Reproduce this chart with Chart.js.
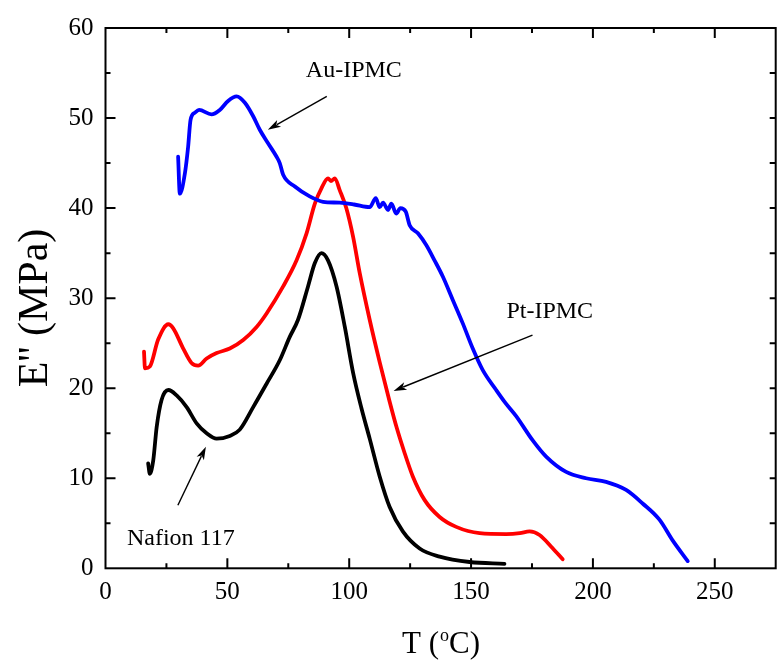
<!DOCTYPE html>
<html>
<head>
<meta charset="utf-8">
<script src="https://cdn.jsdelivr.net/npm/chart.js@4.4.0/dist/chart.umd.min.js"></script>
<style>
  body { margin: 0; background: #fff; }
  canvas { display: block; }
</style>
</head>
<body>
<canvas id="render" width="777" height="660"></canvas>
<script>
// E'' vs temperature
const auT = [29.8, 30.5, 32.6, 33.9, 34.9, 36.7, 38.4, 43.5, 46.9, 50.3, 53.8, 57.2, 60.6, 63.3, 66.7, 70.2, 71.5, 72.9, 77.7, 83.8, 89.3, 96.1, 102, 108.4, 110.9, 112.5, 113.9, 115.9, 117.3, 119.3, 121, 123.2, 124.8, 128.2, 131.6, 135.0, 138.4, 142.5, 146.6, 150.7, 154.8, 160.3, 164, 168.5, 175.3, 180.8, 189.0, 197.2, 205.4, 213.6, 220.4, 227.3, 232.7, 238.9];
const auE = [45.7, 41.6, 43.9, 46.8, 49.8, 50.6, 50.9, 50.4, 50.9, 51.9, 52.4, 51.7, 50.2, 48.7, 47.2, 45.7, 45.0, 43.7, 42.4, 41.3, 40.7, 40.6, 40.4, 40.1, 41.1, 40.1, 40.6, 39.8, 40.5, 39.4, 40.0, 39.6, 38.1, 37.2, 35.9, 34.2, 32.4, 29.8, 27.2, 24.4, 22.0, 19.8, 18.4, 16.9, 14.2, 12.4, 10.7, 10.0, 9.6, 8.7, 7.2, 5.4, 3.1, 0.8];

const ptT = [15.8, 16.2, 18.2, 21.6, 25.8, 27.8, 31.9, 35.3, 38.0, 41.5, 45.6, 51.0, 56.5, 62.0, 66.1, 72.9, 78.4, 82.5, 85.9, 88.6, 91.3, 92.5, 94.1, 96.1, 98.8, 101.6, 104.3, 108.4, 112.5, 116.6, 119.5, 122.5, 126.1, 130.9, 137.1, 143.9, 153.5, 164.4, 170.0, 174.0, 178.1, 182.9, 187.6];
const ptE = [24.05, 22.2, 22.4, 25.4, 27.1, 26.65, 24.4, 22.8, 22.5, 23.3, 23.9, 24.4, 25.35, 26.8, 28.3, 31.3, 34.2, 37.2, 40.5, 42.2, 43.3, 43.0, 43.3, 42.0, 40.0, 36.8, 32.8, 27.6, 22.9, 18.5, 15.6, 13.0, 10.2, 7.6, 5.7, 4.6, 3.9, 3.8, 3.9, 4.1, 3.7, 2.4, 1.0];

const nafT = [17.5, 18.2, 19.6, 21.0, 23.0, 25.8, 29.2, 33.3, 37.4, 41.5, 45.6, 51.0, 55.1, 60.6, 66.1, 71.5, 75.6, 79.0, 83.1, 85.9, 88.6, 91.3, 94.8, 98.2, 101.6, 105.0, 108.4, 112.5, 116.6, 122.0, 128.9, 137.1, 149.4, 163.7];
const nafE = [11.65, 10.5, 12.0, 15.7, 18.7, 19.8, 19.2, 17.9, 16.1, 15.0, 14.4, 14.7, 15.4, 17.9, 20.5, 23.1, 25.7, 27.6, 31.3, 33.9, 35.0, 34.2, 31.3, 26.8, 21.7, 17.8, 14.4, 10.2, 6.8, 4.1, 2.2, 1.3, 0.7, 0.5];

const xTicks = [0, 50, 100, 150, 200, 250];
const yTicks = [0, 10, 20, 30, 40, 50, 60];

// label text, anchor (T, E), arrow tail and tip in data units
const notes = [
  { text: 'Au-IPMC', at: [82.2, 54.6], from: [90.8, 52.4], to: [66.6, 48.7] },
  { text: 'Pt-IPMC', at: [164.5, 27.8], from: [175.2, 25.9], to: [118.2, 19.7] },
  { text: 'Nafion 117', at: [8.8, 2.6], from: [29.7, 7.0], to: [41.2, 13.5] }
];

const serif = '"Liberation Serif", "Times New Roman", serif';

function pts(xs, ys) {
  return xs.map((x, i) => ({ x: x, y: ys[i] }));
}

function line(label, xs, ys, color) {
  return {
    label: label,
    data: pts(xs, ys),
    showLine: true,
    borderColor: color,
    borderWidth: 3.8,
    pointRadius: 0,
    fill: false,
    cubicInterpolationMode: 'monotone',
    borderCapStyle: 'round',
    borderJoinStyle: 'round'
  };
}

const frame = {
  id: 'frame',
  afterDraw: chart => {
    const ctx = chart.ctx;
    const a = chart.chartArea;
    const xs = chart.scales.x, ys = chart.scales.y;
    ctx.save();
    ctx.strokeStyle = '#000';
    ctx.lineWidth = 2;
    ctx.strokeRect(a.left, a.top, a.right - a.left, a.bottom - a.top);

    ctx.beginPath();
    for (let v = 25; v < 275; v += 25) {
      const px = xs.getPixelForValue(v);
      const len = v % 50 === 0 ? 10 : 5;
      ctx.moveTo(px, a.bottom); ctx.lineTo(px, a.bottom - len);
      ctx.moveTo(px, a.top); ctx.lineTo(px, a.top + len);
    }
    for (let v = 5; v < 60; v += 5) {
      const py = ys.getPixelForValue(v);
      const len = v % 10 === 0 ? 10 : 5;
      ctx.moveTo(a.left, py); ctx.lineTo(a.left + len, py);
      ctx.moveTo(a.right, py); ctx.lineTo(a.right - 6, py);
    }
    ctx.stroke();

    // annotations
    ctx.fillStyle = '#000';
    ctx.font = '24px ' + serif;
    ctx.textBaseline = 'alphabetic';
    ctx.textAlign = 'left';
    notes.forEach(n => {
      ctx.fillText(n.text, xs.getPixelForValue(n.at[0]), ys.getPixelForValue(n.at[1]));
      const x1 = xs.getPixelForValue(n.from[0]), y1 = ys.getPixelForValue(n.from[1]);
      const x2 = xs.getPixelForValue(n.to[0]), y2 = ys.getPixelForValue(n.to[1]);
      const ang = Math.atan2(y2 - y1, x2 - x1);
      const hl = 13, hw = 4;
      ctx.lineWidth = 1.4;
      ctx.beginPath();
      ctx.moveTo(x1, y1);
      ctx.lineTo(x2 - Math.cos(ang) * hl * 0.8, y2 - Math.sin(ang) * hl * 0.8);
      ctx.stroke();
      ctx.beginPath();
      ctx.moveTo(x2, y2);
      ctx.lineTo(x2 - Math.cos(ang) * hl - Math.sin(ang) * hw, y2 - Math.sin(ang) * hl + Math.cos(ang) * hw);
      ctx.lineTo(x2 - Math.cos(ang) * hl * 0.75, y2 - Math.sin(ang) * hl * 0.75);
      ctx.lineTo(x2 - Math.cos(ang) * hl + Math.sin(ang) * hw, y2 - Math.sin(ang) * hl - Math.cos(ang) * hw);
      ctx.closePath();
      ctx.fill();
    });

    // axis titles
    ctx.save();
    ctx.translate(36, 308);
    ctx.rotate(-Math.PI / 2);
    ctx.font = '42px ' + serif;
    ctx.textAlign = 'center';
    ctx.textBaseline = 'middle';
    ctx.fillText("E'' (MPa)", 0, 0);
    ctx.restore();

    let x = 402;
    const base = 653;
    ctx.font = '31px ' + serif;
    ctx.fillText('T (', x, base);
    x += ctx.measureText('T (').width;
    ctx.font = '18px ' + serif;
    ctx.fillText('o', x + 1, base - 12);
    x += ctx.measureText('o').width + 1;
    ctx.font = '31px ' + serif;
    ctx.fillText('C)', x, base);
    ctx.restore();
  }
};

const tickFont = { family: serif, size: 25 };

new Chart(document.getElementById('render'), {
  type: 'scatter',
  data: {
    datasets: [
      line('Au-IPMC', auT, auE, '#0000ff'),
      line('Pt-IPMC', ptT, ptE, '#ff0000'),
      line('Nafion 117', nafT, nafE, '#000000')
    ]
  },
  options: {
    responsive: false,
    animation: false,
    layout: { padding: { top: 28, right: 1.3, left: 0, bottom: 0 } },
    plugins: { legend: { display: false }, tooltip: { enabled: false } },
    scales: {
      x: {
        type: 'linear', min: 0, max: 275,
        grid: { display: false, drawTicks: false },
        border: { display: false },
        afterBuildTicks: s => { s.ticks = xTicks.map(v => ({ value: v })); },
        ticks: { color: '#000', font: tickFont, padding: 9, maxRotation: 0, autoSkip: false },
        afterFit: s => { s.height = 91.7; }
      },
      y: {
        min: 0, max: 60,
        grid: { display: false, drawTicks: false },
        border: { display: false },
        afterBuildTicks: s => { s.ticks = yTicks.map(v => ({ value: v })); },
        ticks: { color: '#000', font: tickFont, padding: 12, autoSkip: false },
        afterFit: s => { s.width = 105.5; }
      }
    }
  },
  plugins: [frame]
});
</script>
</body>
</html>
